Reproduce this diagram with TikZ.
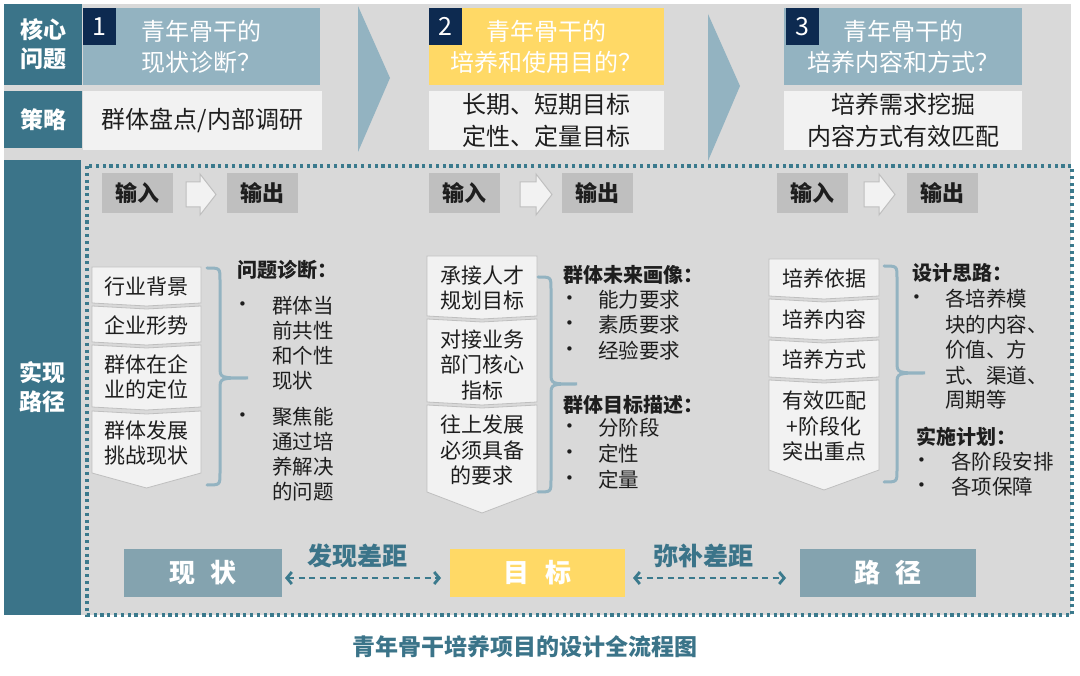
\documentclass[tikz,border=0pt]{standalone}
\usepackage{fontspec}
\setmainfont{Noto Sans CJK SC}
\newfontfamily\dvfont{DejaVu Sans}
\usetikzlibrary{arrows.meta}
\definecolor{cTeal}{HTML}{3B7489}
\definecolor{cBlue}{HTML}{93B3C1}
\definecolor{cNavy}{HTML}{0D2A50}
\definecolor{cYellow}{HTML}{FFD966}
\definecolor{cBg}{HTML}{D9D9D9}
\definecolor{cWhite}{HTML}{F2F2F2}
\definecolor{cIO}{HTML}{BFBFBF}
\definecolor{cPath}{HTML}{84A3AF}
\definecolor{cDot}{HTML}{3B7A8D}
\definecolor{cTxt}{HTML}{1E1E1E}
\newcommand\chevshape[6]{\draw[stackbox] (#1,#2) -- ({(#1+#3)/2},{#2+#5}) -- (#3,#2) -- (#3,#4) -- ({(#1+#3)/2},{#4+#6}) -- (#1,#4) -- cycle;}
\newcommand\blockarrow[3]{\draw[arrowbox] (#1,182) -- (#2,182) -- (#2,174) -- (#3,194.5) -- (#2,215) -- (#2,207) -- (#1,207) -- cycle;}
\newcommand\bracepath[6]{\draw[bracestyle] (#1,#4) .. controls (#2,#4) .. (#2,{#4+12}) -- (#2,{#5-11}) .. controls (#2,#5) .. (#3,#5) .. controls (#2,#5) .. (#2,{#5+11}) -- (#2,{#6-12}) .. controls (#2,#6) .. (#1,#6);}
\begin{document}
\begin{tikzpicture}[x=1pt,y=-1pt,
  every node/.style={inner sep=0pt, outer sep=0pt},
  lab/.style={fill=cTeal, text=white, font=\bfseries\fontsize{23}{29}\selectfont, align=center, anchor=north west},
  qbox/.style={text=white, font=\fontsize{24}{31}\selectfont, align=center, anchor=north west},
  numbox/.style={fill=cNavy, text=white, font=\fontsize{25}{25}\selectfont, minimum width=33, minimum height=37, anchor=north west},
  sbox/.style={fill=cWhite, text=cTxt, font=\fontsize{24}{32}\selectfont, align=center, anchor=north west},
  iobox/.style={fill=cIO, text=cTxt, font=\bfseries\fontsize{22}{22}\selectfont, minimum width=71, minimum height=40, anchor=north west},
  stackbox/.style={fill=cWhite, draw=cIO, line width=0.8pt},
  arrowbox/.style={fill=cWhite, draw=cIO, line width=1pt},
  bracestyle/.style={draw=cBlue, line width=3pt, line cap=round},
  stxt/.style={text=cTxt, font=\fontsize{21}{25.5}\selectfont, align=center},
  head/.style={text=cTxt, font=\bfseries\fontsize{20}{25}\selectfont, anchor=west},
  btxt/.style={text=cTxt, font=\fontsize{20.5}{25}\selectfont, anchor=west},
  bul/.style={text=cTxt, font=\dvfont\fontsize{15}{15}\selectfont, anchor=west},
  pbox/.style={text=white, font=\bfseries\fontsize{26}{26}\selectfont, minimum height=48, anchor=north west},
  gap/.style={text=cTeal, font=\bfseries\fontsize{25}{25}\selectfont},
  garrow/.style={draw=cDot, line width=2.8pt, dash pattern=on 6pt off 4.5pt, {Straight Barb[length=5pt,width=12pt]}-{Straight Barb[length=5pt,width=12pt]}}
]
\useasboundingbox (0,0) rectangle (1080,676);
\fill[white] (0,0) rectangle (1080,676);
\fill[cBg] (4,4) rectangle (1071,615);
% chevrons
\fill[cBlue] (358,6) -- (390,78) -- (358,152) -- cycle;
\fill[cBlue] (708,14) -- (740,86) -- (708,161) -- cycle;
% left labels
\node[lab, minimum width=78, minimum height=81] (lq) at (4,4) {核心\\问题};
\node[lab, minimum width=78, minimum height=57] (ls) at (4,91) {策略};
\node[lab, minimum width=77, minimum height=455] (lp) at (4,160) {实现\\路径};
% question boxes
\node[qbox, fill=cBlue, minimum width=237, minimum height=77] (q1) at (83,8) {青年骨干的\\现状诊断？};
\node[qbox, fill=cYellow, minimum width=235, minimum height=77] (q2) at (429,8) {青年骨干的\\培养和使用目的？};
\node[qbox, fill=cBlue, minimum width=238, minimum height=77] (q3) at (784,8) {青年骨干的\\培养内容和方式？};
\node[numbox] (n1) at (83,8) {1};
\node[numbox] (n2) at (429,8) {2};
\node[numbox] (n3) at (786,8) {3};
% strategy boxes
\node[sbox, minimum width=239, minimum height=59] (s1) at (83,91) {群体盘点/内部调研};
\node[sbox, minimum width=235, minimum height=59] (s2) at (429,91) {长期、短期目标\\定性、定量目标};
\node[sbox, minimum width=238, minimum height=59] (s3) at (784,91) {培养需求挖掘\\内容方式有效匹配};
% dotted frame
\draw[cDot, line width=3.2pt, dash pattern=on 3.2pt off 3.6pt] (87,166) rectangle (1072,615);
% input / output
\node[iobox] (in1) at (102,173) {输入};
\node[iobox] (out1) at (227,173) {输出};
\blockarrow{186}{200}{216}
\node[iobox] (in2) at (429,173) {输入};
\node[iobox] (out2) at (562,173) {输出};
\blockarrow{520}{536}{552}
\node[iobox] (in3) at (777,173) {输入};
\node[iobox] (out3) at (907,173) {输出};
\blockarrow{864}{879}{895}
% left stack
\chevshape{92}{267}{201}{303}{0}{3}
\chevshape{92}{306}{201}{342}{3}{3}
\chevshape{92}{345}{201}{407}{3}{3}
\chevshape{92}{411}{201}{473}{3}{15}
\node[stxt] (a1) at (146.5,287) {行业背景};
\node[stxt] (a2) at (146.5,325) {企业形势};
\node[stxt] (a3) at (146.5,377) {群体在企\\业的定位};
\node[stxt] (a4) at (146.5,443) {群体发展\\挑战现状};
\bracepath{207}{220}{248}{268}{378}{485}
\node[head] (h1) at (237,270) {问题诊断：};
\node[bul] (b11) at (238,306) {•};
\node[bul] (b12) at (238,417) {•};
\node[btxt] (t11) at (272,306) {群体当};
\node[btxt] (t12) at (272,331) {前共性};
\node[btxt] (t13) at (272,356) {和个性};
\node[btxt] (t14) at (272,381) {现状};
\node[btxt] (t15) at (272,417) {聚焦能};
\node[btxt] (t16) at (272,442) {通过培};
\node[btxt] (t17) at (272,467) {养解决};
\node[btxt] (t18) at (272,492) {的问题};
% middle stack
\chevshape{427}{256}{537}{316}{0}{3}
\chevshape{427}{319}{537}{402}{3}{3}
\chevshape{427}{405}{537}{492}{3}{21}
\node[stxt] (m1) at (482,288) {承接人才\\规划目标};
\node[stxt] (m2) at (482,365) {对接业务\\部门核心\\指标};
\node[stxt] (m3) at (482,450) {往上发展\\必须具备\\的要求};
\bracepath{538}{551}{577}{277}{384}{492}
\node[head] (h2) at (563,275) {群体未来画像：};
\node[bul] (b21) at (565,300) {•};
\node[bul] (b22) at (565,325) {•};
\node[bul] (b23) at (565,351) {•};
\node[btxt] (t21) at (598,300) {能力要求};
\node[btxt] (t22) at (598,325) {素质要求};
\node[btxt] (t23) at (598,351) {经验要求};
\node[head] (h3) at (563,405) {群体目标描述：};
\node[bul] (b24) at (565,428) {•};
\node[bul] (b25) at (565,454) {•};
\node[bul] (b26) at (565,480) {•};
\node[btxt] (t24) at (598,428) {分阶段};
\node[btxt] (t25) at (598,454) {定性};
\node[btxt] (t26) at (598,480) {定量};
% right stack
\chevshape{769}{259}{879}{296}{0}{3}
\chevshape{769}{299}{879}{337}{3}{3}
\chevshape{769}{340}{879}{377}{3}{3}
\chevshape{769}{380}{879}{470}{3}{20}
\node[stxt] (r1) at (824,279) {培养依据};
\node[stxt] (r2) at (824,319) {培养内容};
\node[stxt] (r3) at (824,359) {培养方式};
\node[stxt] (r4) at (824,426) {有效匹配\\+阶段化\\突出重点};
\bracepath{884}{897}{925}{266}{373}{482}
\node[head] (h4) at (912,273) {设计思路：};
\node[bul] (b31) at (912,299) {•};
\node[btxt] (t31) at (945,299) {各培养模};
\node[btxt] (t32) at (945,325) {块的内容、};
\node[btxt] (t33) at (945,350) {价值、方};
\node[btxt] (t34) at (945,376) {式、渠道、};
\node[btxt] (t35) at (945,400) {周期等};
\node[head] (h5) at (916,437) {实施计划：};
\node[bul] (b32) at (917,462) {•};
\node[bul] (b33) at (917,487) {•};
\node[btxt] (t36) at (951,462) {各阶段安排};
\node[btxt] (t37) at (951,487) {各项保障};
% bottom row
\node[pbox, fill=cPath, minimum width=158] (xz) at (124,549) {现\hspace{0.6em}状};
\node[pbox, fill=cYellow, minimum width=175] (mb) at (450,549) {目\hspace{0.6em}标};
\node[pbox, fill=cPath, minimum width=176] (lj) at (800,549) {路\hspace{0.6em}径};
\node[gap] (g1) at (357,556) {发现差距};
\node[gap] (g2) at (703,556) {弥补差距};
\draw[garrow] ([xshift=3pt,yshift=-5pt]xz.east) -- ([xshift=-9pt,yshift=-5pt]mb.west);
\draw[garrow] ([xshift=8pt,yshift=-5pt]mb.east) -- ([xshift=-14pt,yshift=-5pt]lj.west);
% title
\node[text=cTeal, font=\bfseries\fontsize{23}{23}\selectfont] (title) at (525,647) {青年骨干培养项目的设计全流程图};
\end{tikzpicture}
\end{document}
